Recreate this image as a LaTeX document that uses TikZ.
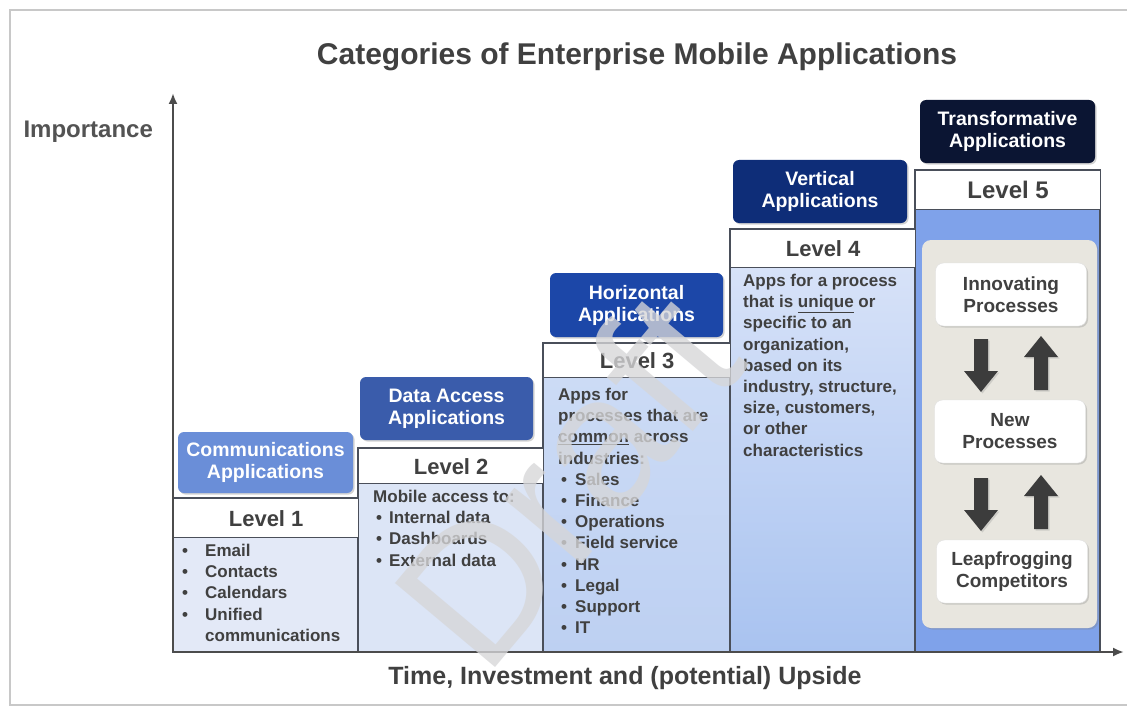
\documentclass[tikz,border=0pt]{standalone}
\usepackage{fontspec}
\setmainfont{Liberation Sans}
\usetikzlibrary{shadows,arrows.meta}
\definecolor{txt}{HTML}{404040}
\definecolor{frame}{HTML}{C8C8C8}
\definecolor{colline}{HTML}{4A4F5A}
\definecolor{appA}{HTML}{6A8ED8}
\definecolor{appB}{HTML}{3A5CAB}
\definecolor{appC}{HTML}{1C47A8}
\definecolor{appD}{HTML}{0E2D78}
\definecolor{appE}{HTML}{0B1533}
\definecolor{bodyA}{HTML}{E3E9F7}
\definecolor{bodyB}{HTML}{DCE5F6}
\definecolor{bodyCt}{HTML}{CCDBF5}
\definecolor{bodyCb}{HTML}{BDD0F2}
\definecolor{bodyDt}{HTML}{D7E2F8}
\definecolor{bodyDb}{HTML}{A9C3F0}
\definecolor{bodyE}{HTML}{7FA2EA}
\definecolor{panel}{HTML}{E8E6DF}
\definecolor{arrc}{HTML}{3C3C3C}
\definecolor{wmark}{RGB}{214,214,216}
\newcommand\mybul[1]{\makebox[#1][l]{\textbullet}}
\newcommand\darrow[3]{\fill[arrc, drop shadow={opacity=0.25,shadow xshift=1.5pt,shadow yshift=-1.5pt}] (#1-7,#2) -- (#1+7,#2) -- (#1+7,#3-21) -- (#1+17,#3-21) -- (#1,#3) -- (#1-17,#3-21) -- (#1-7,#3-21) -- cycle;}
\newcommand\uarrow[3]{\fill[arrc, drop shadow={opacity=0.25,shadow xshift=1.5pt,shadow yshift=-1.5pt}] (#1-7,#3) -- (#1+7,#3) -- (#1+7,#2+21) -- (#1+17,#2+21) -- (#1,#2) -- (#1-17,#2+21) -- (#1-7,#2+21) -- cycle;}
\begin{document}
\begin{tikzpicture}[x=1pt,y=-1pt,
  appbox/.style={rounded corners=6pt, text=white, font=\bfseries\fontsize{19.5}{22}\selectfont, align=center, minimum width=174pt, minimum height=63pt, inner sep=0pt, drop shadow={opacity=0.35,shadow xshift=1.5pt,shadow yshift=-1.5pt}},
  lvl/.style={draw=colline, line width=1.3pt, fill=white, font=\bfseries\fontsize{22}{24}\selectfont, text=txt, anchor=north west, inner sep=0pt, minimum width=185pt},
  body/.style={anchor=north west, inner sep=0pt, align=left, text=txt, font=\bfseries\fontsize{17}{21.2}\selectfont},
  wbox/.style={rounded corners=8pt, fill=white, draw=black!12, text=txt, font=\bfseries\fontsize{19}{22}\selectfont, align=center, minimum width=151pt, minimum height=63pt, inner sep=0pt, drop shadow={opacity=0.3,shadow xshift=1.5pt,shadow yshift=-1.5pt}},
  axis/.style={draw=black!70, line width=2.2pt, -{Latex[length=11pt,width=9pt]}},
  colb/.style={draw=colline, line width=1.3pt}
]
\useasboundingbox (0,0) rectangle (1127,706);
\fill[white] (0,0) rectangle (1127,706);
\draw[frame, line width=1.5pt] (10,10) rectangle (1130,705);

% title and axis labels
\node[font=\bfseries\fontsize{30}{34}\selectfont, text=txt] (title) at (637,57) {Categories of Enterprise Mobile Applications};
\node[font=\bfseries\fontsize{24}{28}\selectfont, text=txt!90, anchor=west] (ylab) at (20,132) {Importance};
\node[font=\bfseries\fontsize{25}{28}\selectfont, text=txt] (xlab) at (625,678) {Time, Investment and (potential) Upside};

% bodies
\fill[bodyA] (173,537) rectangle (358,652);
\fill[bodyB] (358,483) rectangle (543,652);
\shade[top color=bodyCt, bottom color=bodyCb] (543,377) rectangle (730,652);
\shade[top color=bodyDt, bottom color=bodyDb] (730,267) rectangle (915,652);
\fill[bodyE] (915,209) rectangle (1100,652);

% column outlines
\draw[colb] (173,498) rectangle (358,652);
\draw[colb] (358,448) rectangle (543,652);
\draw[colb] (543,343) rectangle (730,652);
\draw[colb] (730,229) rectangle (915,652);
\draw[colb] (915,170) rectangle (1100,652);

% level headers
\node[lvl, minimum height=39pt] (h1) at (173,498) {Level 1};
\node[lvl, minimum height=35pt] (h2) at (358,448) {Level 2};
\node[lvl, minimum height=34pt, minimum width=187pt] (h3) at (543,343) {Level 3};
\node[lvl, minimum height=38pt] (h4) at (730,229) {Level 4};
\node[lvl, minimum height=39pt, font=\bfseries\fontsize{24}{26}\selectfont] (h5) at (915,170) {Level 5};

% application boxes
\node[appbox, fill=appA, minimum width=175pt, minimum height=61pt] (a1) at (265.5,462.5) {Communications\\Applications};
\node[appbox, fill=appB, minimum width=173pt] (a2) at (446.5,408.5) {Data Access\\Applications};
\node[appbox, fill=appC, minimum width=173pt, minimum height=64pt] (a3) at (636.5,305) {Horizontal\\Applications};
\node[appbox, fill=appD] (a4) at (820,191.5) {Vertical\\Applications};
\node[appbox, fill=appE, minimum width=175pt] (a5) at (1007.5,131.5) {Transformative\\Applications};

% body texts
\node[body] (t1) at (182,544) {\mybul{23pt}Email\\ \mybul{23pt}Contacts\\ \mybul{23pt}Calendars\\ \mybul{23pt}Unified\\ \hspace*{23pt}communications};
\node[body] (t2) at (373,490) {Mobile access to:\\ \hspace*{3pt}\mybul{13pt}Internal data\\ \hspace*{3pt}\mybul{13pt}Dashboards\\ \hspace*{3pt}\mybul{13pt}External data};
\node[body] (t3) at (558,388) {Apps for\\ processes that are\\ \underline{common} across\\ industries:\\ \hspace*{3pt}\mybul{14pt}Sales\\ \hspace*{3pt}\mybul{14pt}Finance\\ \hspace*{3pt}\mybul{14pt}Operations\\ \hspace*{3pt}\mybul{14pt}Field service\\ \hspace*{3pt}\mybul{14pt}HR\\ \hspace*{3pt}\mybul{14pt}Legal\\ \hspace*{3pt}\mybul{14pt}Support\\ \hspace*{3pt}\mybul{14pt}IT};
\node[body] (t4) at (743,274) {Apps for a process\\ that is \underline{unique} or\\ specific to an\\ organization,\\ based on its\\ industry, structure,\\ size, customers,\\ or other\\ characteristics};

% level 5 panel
\fill[panel, rounded corners=9pt, drop shadow={opacity=0.3,shadow xshift=1.5pt,shadow yshift=-1.5pt}] (922,240) rectangle (1097,628);
\node[wbox] (p1) at (1011,294.5) {Innovating\\Processes};
\node[wbox] (p2) at (1010,431.5) {New\\Processes};
\node[wbox] (p3) at (1012,571.5) {Leapfrogging\\Competitors};
\darrow{981}{339}{392}
\uarrow{1041}{336}{390}
\darrow{981}{478}{531}
\uarrow{1041}{475}{529}

% axes
\coordinate (o) at (173,652);
\coordinate (ytip) at (173,93);
\coordinate (xtip) at (1124,652);
\draw[axis] (o) -- (ytip);
\draw[axis] (o) -- (xtip);

% watermark
\node[rotate=50, text=wmark, opacity=0.78, font=\fontsize{190}{190}\selectfont] (wm) at (566,478) {Draft};
\end{tikzpicture}
\end{document}
